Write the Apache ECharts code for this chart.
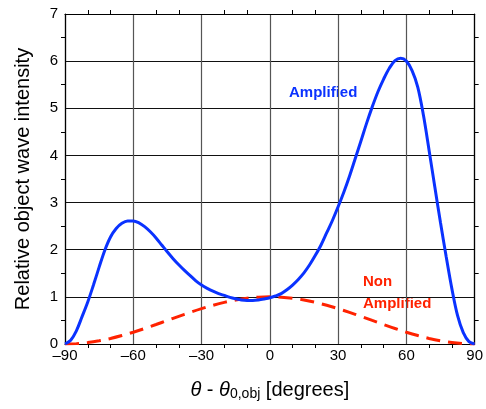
<!DOCTYPE html>
<html>
<head>
<meta charset="utf-8">
<script src="https://cdn.jsdelivr.net/npm/echarts@6/dist/echarts.min.js"></script>
<style>
html,body{margin:0;padding:0;background:#fff;}
#chart{width:486px;height:409px;}
</style>
</head>
<body>
<div id="chart"></div>
<script>
// Angles in degrees (theta - theta0,obj)
var amplifiedAngles = [-90,-87.5,-85,-82.5,-80,-77.5,-75,-72.5,-70,-67.5,-65,-62.5,-60,-57.5,-55,-52.5,-50,-47.5,-45,-42.5,-40,-37.5,-35,-32.5,-30,-27.5,-25,-22.5,-20,-17.5,-15,-12.5,-10,-7.5,-5,-2.5,0,2.5,5,7.5,10,12.5,15,17.5,20,22.5,25,27.5,30,32.5,35,37.5,40,42.5,45,47.5,50,52.5,55,57.5,60,62.5,65,67.5,70,72.5,75,77.5,80,82.5,85,87.5,90];
var amplifiedValues = [0,0.08,0.28,0.58,0.89,1.25,1.63,1.99,2.27,2.45,2.56,2.61,2.61,2.57,2.49,2.38,2.25,2.1,1.95,1.81,1.68,1.56,1.45,1.34,1.25,1.18,1.12,1.07,1.03,0.99,0.96,0.935,0.925,0.925,0.935,0.955,0.98,1.02,1.07,1.15,1.25,1.37,1.51,1.68,1.88,2.1,2.36,2.62,2.91,3.22,3.56,3.93,4.3,4.68,5.03,5.35,5.62,5.85,6.01,6.06,6.0,5.8,5.45,4.85,4.1,3.33,2.57,1.85,1.17,0.6,0.24,0.05,0];
var nonAmpAngles = [-90,-85,-80,-75,-70,-65,-60,-55,-50,-45,-40,-35,-30,-25,-20,-15,-10,-5,0,5,10,15,20,25,30,35,40,45,50,55,60,65,70,75,80,85,90];
var nonAmpValues = [0,0.008,0.03,0.067,0.117,0.179,0.25,0.329,0.413,0.5,0.587,0.671,0.75,0.821,0.883,0.933,0.97,0.992,1,0.992,0.97,0.933,0.883,0.821,0.75,0.671,0.587,0.5,0.413,0.329,0.25,0.179,0.117,0.067,0.03,0.008,0];
var xTicks = [-90,-60,-30,0,30,60,90];
var yTicks = [0,1,2,3,4,5,6,7];

function pairs(xs, ys){ return xs.map(function(x,i){ return [x, ys[i]]; }); }

var font = 'Liberation Sans, Arial, Helvetica, sans-serif';
var chart = echarts.init(document.getElementById('chart'), null, {renderer:'canvas'});

var baseX = {
  type:'value', min:-90, max:90, interval:30,
  axisLine:{show:true, onZero:false, lineStyle:{color:'#000', width:1.2}},
  axisTick:{show:false},
  minorTick:{show:true, splitNumber:3, length:4, inside:true, lineStyle:{color:'#000', width:1}},
  splitLine:{show:false}
};
var baseY = {
  type:'value', min:0, max:7, interval:1,
  axisLine:{show:true, onZero:false, lineStyle:{color:'#000', width:1.2}},
  axisTick:{show:false},
  minorTick:{show:true, splitNumber:2, length:4, inside:true, lineStyle:{color:'#000', width:1}},
  splitLine:{show:false}
};

var option = {
  animation:false,
  backgroundColor:'#fff',
  grid:{left:65, right:7, top:14, bottom:65, containLabel:false},
  xAxis:[
    Object.assign({}, baseX, {
      position:'bottom',
      splitLine:{show:true, lineStyle:{color:'#555', width:1.2}},
      axisLabel:{show:true, color:'#000', fontFamily:font, fontSize:15, margin:4,
        formatter:function(v){ return xTicks.indexOf(v)>=0 ? String(v).replace('-', '\u2013') : ''; }},
      name:'{i|\u03b8} - {i|\u03b8}{sub|0,obj} [degrees]',
      nameLocation:'middle', nameGap:35,
      nameTextStyle:{color:'#000', fontFamily:font, fontSize:20,
        rich:{
          i:{fontStyle:'italic', fontSize:20, fontFamily:font, color:'#000'},
          sub:{fontSize:14, fontFamily:font, color:'#000', padding:[8,0,0,0]}
        }}
    }),
    Object.assign({}, baseX, {position:'top', axisLabel:{show:false}})
  ],
  yAxis:[
    Object.assign({}, baseY, {
      position:'left',
      splitLine:{show:true, lineStyle:{color:'#111', width:1}},
      axisLabel:{show:true, color:'#000', fontFamily:font, fontSize:15, margin:7,
        formatter:function(v){ return yTicks.indexOf(v)>=0 ? String(v) : ''; }},
      name:'Relative object wave intensity',
      nameLocation:'middle', nameGap:32, nameRotate:90,
      nameTextStyle:{color:'#000', fontFamily:font, fontSize:20}
    }),
    Object.assign({}, baseY, {position:'right', axisLabel:{show:false}})
  ],
  series:[
    {
      name:'Non Amplified', type:'line', xAxisIndex:0, yAxisIndex:0,
      data:pairs(nonAmpAngles, nonAmpValues), smooth:0.35, showSymbol:false,
      lineStyle:{color:'#ff2200', width:3, type:[14,8]}, z:3
    },
    {
      name:'Amplified', type:'line', xAxisIndex:0, yAxisIndex:0,
      data:pairs(amplifiedAngles, amplifiedValues), smooth:0.35, showSymbol:false,
      lineStyle:{color:'#0a32ff', width:3}, z:4
    }
  ],
  graphic:[
    {type:'text', left:289, top:85, style:{text:'Amplified', fill:'#0a32ff', font:'bold 15px '+font}},
    {type:'text', left:363, top:274, style:{text:'Non', fill:'#ff2200', font:'bold 15px '+font}},
    {type:'text', left:363, top:296, style:{text:'Amplified', fill:'#ff2200', font:'bold 15px '+font}}
  ]
};
chart.setOption(option);
</script>
</body>
</html>
